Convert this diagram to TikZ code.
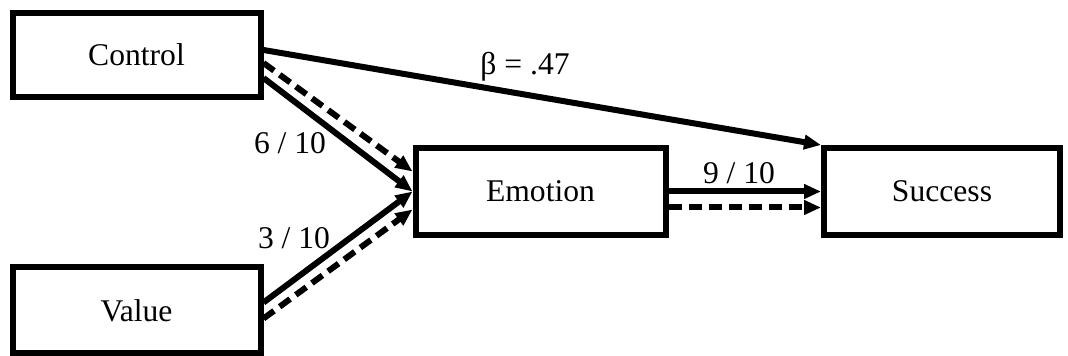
\documentclass[tikz,border=0pt]{standalone}
\usepackage{fontspec}
\setmainfont{Liberation Serif}
\usetikzlibrary{arrows.meta,positioning,calc}

\begin{document}
\begin{tikzpicture}[x=0.5pt, y=-0.5pt, every node/.style={font=\fontsize{15.8}{19}\selectfont}, >={Triangle[length=8.5pt,width=7pt]},
  box/.style={draw, line width=3pt, minimum height=43pt, inner sep=0pt},
  solidarr/.style={->, line width=3pt},
  dasharr/.style={solidarr, dash pattern=on 6.5pt off 3.5pt}]
\useasboundingbox (0,0) rectangle (1068,356);
\node[box, minimum width=124pt, minimum height=42pt] (ctrl) at (136.5,55) {Control};
\node[box, minimum width=124pt] (val) at (136.5,310.5) {Value};
\node[box, minimum width=125pt, minimum height=43.5pt] (emo) at (540.5,191.5) {Emotion};
\node[box, minimum width=118pt, minimum height=43.5pt] (succ) at (942,191.5) {Success};
\draw[solidarr] ([yshift=2.5pt]ctrl.east) -- (succ.north west);
\draw[solidarr] ([yshift=-11.5pt]ctrl.east) -- (emo.west);
\draw[dasharr] ([yshift=-4pt]ctrl.east) -- ([yshift=10pt]emo.west);
\draw[solidarr] ([yshift=4pt]val.east) -- (emo.west);
\draw[dasharr] ([yshift=-4pt]val.east) -- ([yshift=-9pt]emo.west);
\draw[solidarr] (emo.east) -- (succ.west);
\draw[dasharr] ([yshift=-8pt]emo.east) -- ([yshift=-8pt]succ.west);
\node (b47) at (525,67) {β = .47};
\node (w610) at (290,143) {6 / 10};
\node (w310) at (294,238) {3 / 10};
\node (w910) at (739,173) {9 / 10};
\end{tikzpicture}
\end{document}
